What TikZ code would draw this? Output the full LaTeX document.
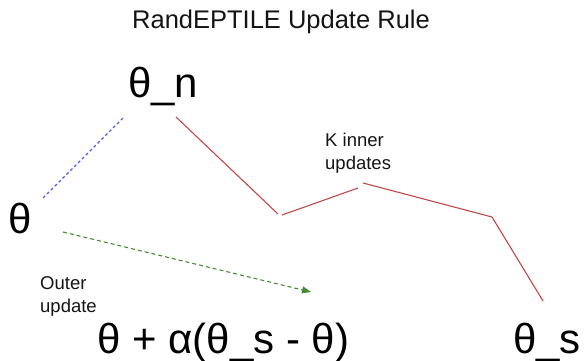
\documentclass[tikz,border=0pt]{standalone}
\usepackage{fontspec}
\setmainfont{Liberation Sans}
\usetikzlibrary{arrows.meta}
\definecolor{redline}{RGB}{192,72,72}
\definecolor{blueline}{RGB}{90,90,235}
\definecolor{greenline}{RGB}{70,140,50}
\definecolor{txt}{RGB}{20,20,20}
\tikzset{
  big/.style={inner sep=0pt, anchor=base west, font=\fontsize{42}{48}\selectfont, text=black},
  small/.style={inner sep=0pt, anchor=base west, font=\fontsize{18.5}{23}\selectfont, align=left, text=txt},
  redseg/.style={draw=redline, line width=1.1pt},
  bluedash/.style={draw=blueline, line width=1.1pt, dash pattern=on 3pt off 2.5pt},
  greendash/.style={draw=greenline, line width=1.1pt, dash pattern=on 4pt off 3pt, -{Triangle[length=9pt,width=7pt]}},
}
\begin{document}
\begin{tikzpicture}[x=1pt,y=-1pt]
\useasboundingbox (0,0) rectangle (585,360);
\node[inner sep=0pt, anchor=base, font=\fontsize{25.5}{30}\selectfont, text=txt] (title) at (281,28) {RandEPTILE Update Rule};
\node[big] (thn) at (128,97) {θ\_n};
\node[big] (th) at (8,233) {θ};
\node[big] (upd) at (97,353) {θ + α(θ\_s - θ)};
\node[big] (ths) at (513,353) {θ\_s};
\node[small] (kin) at (325,169) {K inner\\updates};
\node[small] (out) at (40,312) {Outer\\update};
% red inner-update path
\coordinate (r1) at (176,117);
\coordinate (r2) at (278,214);
\coordinate (r3) at (282,215);
\coordinate (r4) at (358,188);
\coordinate (r5) at (363,183);
\coordinate (r6) at (492,217);
\coordinate (r7) at (543,301);
\draw[redseg] (r1) -- (r2);
\draw[redseg] (r3) -- (r4);
\draw[redseg] (r5) -- (r6) -- (r7);
% blue dashed
\coordinate (b1) at (123,118);
\coordinate (b2) at (42,199);
\draw[bluedash] (b1) -- (b2);
% green arrow
\coordinate (g1) at (63,232);
\coordinate (g2) at (311,292);
\draw[greendash] (g1) -- (g2);
\end{tikzpicture}
\end{document}
